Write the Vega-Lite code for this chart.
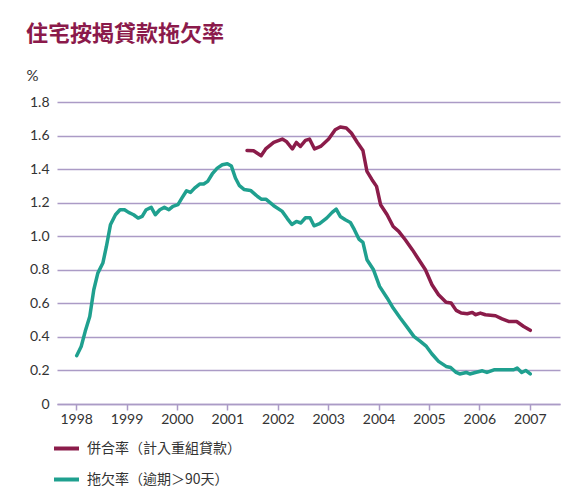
{
  "$schema": "https://vega.github.io/schema/vega-lite/v6.json",
  "width": 503,
  "height": 302,
  "autosize": "none",
  "padding": {"left": 57, "top": 102, "right": 24, "bottom": 86},
  "background": "white",
  "title": {
    "text": "住宅按揭貸款拖欠率",
    "anchor": "start",
    "frame": "group",
    "dx": -31,
    "offset": 22,
    "font": "Noto Sans CJK TC",
    "fontSize": 22,
    "fontWeight": "bold",
    "color": "#8b1a4b"
  },
  "config": {
    "view": {"stroke": null},
    "font": "Lato, Noto Sans CJK TC",
    "axis": {"labelFont": "Lato, Noto Sans CJK TC", "labelFontSize": 14, "labelColor": "#333333", "titleColor": "#333333"}
  },
  "datasets": {
    "rates": [
      {"series": "拖欠率（逾期＞90天）", "year": 1998.01, "value": 0.288},
      {"series": "拖欠率（逾期＞90天）", "year": 1998.10, "value": 0.343},
      {"series": "拖欠率（逾期＞90天）", "year": 1998.18, "value": 0.433},
      {"series": "拖欠率（逾期＞90天）", "year": 1998.27, "value": 0.522},
      {"series": "拖欠率（逾期＞90天）", "year": 1998.35, "value": 0.681},
      {"series": "拖欠率（逾期＞90天）", "year": 1998.43, "value": 0.78},
      {"series": "拖欠率（逾期＞90天）", "year": 1998.53, "value": 0.84},
      {"series": "拖欠率（逾期＞90天）", "year": 1998.60, "value": 0.939},
      {"series": "拖欠率（逾期＞90天）", "year": 1998.68, "value": 1.068},
      {"series": "拖欠率（逾期＞90天）", "year": 1998.78, "value": 1.128},
      {"series": "拖欠率（逾期＞90天）", "year": 1998.87, "value": 1.158},
      {"series": "拖欠率（逾期＞90天）", "year": 1998.96, "value": 1.158},
      {"series": "拖欠率（逾期＞90天）", "year": 1999.04, "value": 1.142},
      {"series": "拖欠率（逾期＞90天）", "year": 1999.14, "value": 1.128},
      {"series": "拖欠率（逾期＞90天）", "year": 1999.23, "value": 1.108},
      {"series": "拖欠率（逾期＞90天）", "year": 1999.31, "value": 1.118},
      {"series": "拖欠率（逾期＞90天）", "year": 1999.39, "value": 1.158},
      {"series": "拖欠率（逾期＞90天）", "year": 1999.49, "value": 1.172},
      {"series": "拖欠率（逾期＞90天）", "year": 1999.57, "value": 1.128},
      {"series": "拖欠率（逾期＞90天）", "year": 1999.66, "value": 1.158},
      {"series": "拖欠率（逾期＞90天）", "year": 1999.75, "value": 1.172},
      {"series": "拖欠率（逾期＞90天）", "year": 1999.84, "value": 1.158},
      {"series": "拖欠率（逾期＞90天）", "year": 1999.92, "value": 1.178},
      {"series": "拖欠率（逾期＞90天）", "year": 2000.02, "value": 1.188},
      {"series": "拖欠率（逾期＞90天）", "year": 2000.10, "value": 1.228},
      {"series": "拖欠率（逾期＞90天）", "year": 2000.19, "value": 1.271},
      {"series": "拖欠率（逾期＞90天）", "year": 2000.27, "value": 1.261},
      {"series": "拖欠率（逾期＞90天）", "year": 2000.35, "value": 1.287},
      {"series": "拖欠率（逾期＞90天）", "year": 2000.45, "value": 1.311},
      {"series": "拖欠率（逾期＞90天）", "year": 2000.53, "value": 1.311},
      {"series": "拖欠率（逾期＞90天）", "year": 2000.61, "value": 1.327},
      {"series": "拖欠率（逾期＞90天）", "year": 2000.70, "value": 1.371},
      {"series": "拖欠率（逾期＞90天）", "year": 2000.80, "value": 1.406},
      {"series": "拖欠率（逾期＞90天）", "year": 2000.90, "value": 1.426},
      {"series": "拖欠率（逾期＞90天）", "year": 2001.00, "value": 1.432},
      {"series": "拖欠率（逾期＞90天）", "year": 2001.08, "value": 1.418},
      {"series": "拖欠率（逾期＞90天）", "year": 2001.16, "value": 1.347},
      {"series": "拖欠率（逾期＞90天）", "year": 2001.24, "value": 1.301},
      {"series": "拖欠率（逾期＞90天）", "year": 2001.33, "value": 1.279},
      {"series": "拖欠率（逾期＞90天）", "year": 2001.46, "value": 1.273},
      {"series": "拖欠率（逾期＞90天）", "year": 2001.60, "value": 1.237},
      {"series": "拖欠率（逾期＞90天）", "year": 2001.68, "value": 1.220},
      {"series": "拖欠率（逾期＞90天）", "year": 2001.77, "value": 1.220},
      {"series": "拖欠率（逾期＞90天）", "year": 2001.92, "value": 1.182},
      {"series": "拖欠率（逾期＞90天）", "year": 2002.09, "value": 1.148},
      {"series": "拖欠率（逾期＞90天）", "year": 2002.19, "value": 1.105},
      {"series": "拖欠率（逾期＞90天）", "year": 2002.28, "value": 1.070},
      {"series": "拖欠率（逾期＞90天）", "year": 2002.37, "value": 1.088},
      {"series": "拖欠率（逾期＞90天）", "year": 2002.46, "value": 1.079},
      {"series": "拖欠率（逾期＞90天）", "year": 2002.55, "value": 1.110},
      {"series": "拖欠率（逾期＞90天）", "year": 2002.64, "value": 1.110},
      {"series": "拖欠率（逾期＞90天）", "year": 2002.72, "value": 1.062},
      {"series": "拖欠率（逾期＞90天）", "year": 2002.83, "value": 1.075},
      {"series": "拖欠率（逾期＞90天）", "year": 2002.97, "value": 1.108},
      {"series": "拖欠率（逾期＞90天）", "year": 2003.08, "value": 1.142},
      {"series": "拖欠率（逾期＞90天）", "year": 2003.16, "value": 1.162},
      {"series": "拖欠率（逾期＞90天）", "year": 2003.24, "value": 1.118},
      {"series": "拖欠率（逾期＞90天）", "year": 2003.34, "value": 1.098},
      {"series": "拖欠率（逾期＞90天）", "year": 2003.44, "value": 1.082},
      {"series": "拖欠率（逾期＞90天）", "year": 2003.52, "value": 1.039},
      {"series": "拖欠率（逾期＞90天）", "year": 2003.61, "value": 0.983},
      {"series": "拖欠率（逾期＞90天）", "year": 2003.69, "value": 0.963},
      {"series": "拖欠率（逾期＞90天）", "year": 2003.77, "value": 0.860},
      {"series": "拖欠率（逾期＞90天）", "year": 2003.90, "value": 0.800},
      {"series": "拖欠率（逾期＞90天）", "year": 2004.02, "value": 0.701},
      {"series": "拖欠率（逾期＞90天）", "year": 2004.17, "value": 0.632},
      {"series": "拖欠率（逾期＞90天）", "year": 2004.29, "value": 0.572},
      {"series": "拖欠率（逾期＞90天）", "year": 2004.43, "value": 0.513},
      {"series": "拖欠率（逾期＞90天）", "year": 2004.57, "value": 0.457},
      {"series": "拖欠率（逾期＞90天）", "year": 2004.70, "value": 0.403},
      {"series": "拖欠率（逾期＞90天）", "year": 2004.83, "value": 0.373},
      {"series": "拖欠率（逾期＞90天）", "year": 2004.95, "value": 0.343},
      {"series": "拖欠率（逾期＞90天）", "year": 2005.06, "value": 0.298},
      {"series": "拖欠率（逾期＞90天）", "year": 2005.19, "value": 0.254},
      {"series": "拖欠率（逾期＞90天）", "year": 2005.34, "value": 0.224},
      {"series": "拖欠率（逾期＞90天）", "year": 2005.43, "value": 0.218},
      {"series": "拖欠率（逾期＞90天）", "year": 2005.54, "value": 0.188},
      {"series": "拖欠率（逾期＞90天）", "year": 2005.61, "value": 0.179},
      {"series": "拖欠率（逾期＞90天）", "year": 2005.74, "value": 0.188},
      {"series": "拖欠率（逾期＞90天）", "year": 2005.81, "value": 0.179},
      {"series": "拖欠率（逾期＞90天）", "year": 2005.92, "value": 0.188},
      {"series": "拖欠率（逾期＞90天）", "year": 2006.06, "value": 0.198},
      {"series": "拖欠率（逾期＞90天）", "year": 2006.15, "value": 0.188},
      {"series": "拖欠率（逾期＞90天）", "year": 2006.29, "value": 0.204},
      {"series": "拖欠率（逾期＞90天）", "year": 2006.42, "value": 0.204},
      {"series": "拖欠率（逾期＞90天）", "year": 2006.55, "value": 0.204},
      {"series": "拖欠率（逾期＞90天）", "year": 2006.68, "value": 0.204},
      {"series": "拖欠率（逾期＞90天）", "year": 2006.75, "value": 0.214},
      {"series": "拖欠率（逾期＞90天）", "year": 2006.84, "value": 0.188},
      {"series": "拖欠率（逾期＞90天）", "year": 2006.92, "value": 0.200},
      {"series": "拖欠率（逾期＞90天）", "year": 2007.01, "value": 0.179},
      {"series": "併合率（計入重組貸款）", "year": 2001.39, "value": 1.511},
      {"series": "併合率（計入重組貸款）", "year": 2001.52, "value": 1.509},
      {"series": "併合率（計入重組貸款）", "year": 2001.67, "value": 1.480},
      {"series": "併合率（計入重組貸款）", "year": 2001.76, "value": 1.520},
      {"series": "併合率（計入重組貸款）", "year": 2001.92, "value": 1.559},
      {"series": "併合率（計入重組貸款）", "year": 2002.09, "value": 1.579},
      {"series": "併合率（計入重組貸款）", "year": 2002.17, "value": 1.565},
      {"series": "併合率（計入重組貸款）", "year": 2002.29, "value": 1.520},
      {"series": "併合率（計入重組貸款）", "year": 2002.37, "value": 1.559},
      {"series": "併合率（計入重組貸款）", "year": 2002.45, "value": 1.535},
      {"series": "併合率（計入重組貸款）", "year": 2002.55, "value": 1.571},
      {"series": "併合率（計入重組貸款）", "year": 2002.63, "value": 1.579},
      {"series": "併合率（計入重組貸款）", "year": 2002.73, "value": 1.520},
      {"series": "併合率（計入重組貸款）", "year": 2002.85, "value": 1.535},
      {"series": "併合率（計入重組貸款）", "year": 2003.01, "value": 1.579},
      {"series": "併合率（計入重組貸款）", "year": 2003.14, "value": 1.635},
      {"series": "併合率（計入重組貸款）", "year": 2003.24, "value": 1.651},
      {"series": "併合率（計入重組貸款）", "year": 2003.36, "value": 1.645},
      {"series": "併合率（計入重組貸款）", "year": 2003.46, "value": 1.615},
      {"series": "併合率（計入重組貸款）", "year": 2003.58, "value": 1.559},
      {"series": "併合率（計入重組貸款）", "year": 2003.69, "value": 1.511},
      {"series": "併合率（計入重組貸款）", "year": 2003.77, "value": 1.386},
      {"series": "併合率（計入重組貸款）", "year": 2003.87, "value": 1.337},
      {"series": "併合率（計入重組貸款）", "year": 2003.96, "value": 1.297},
      {"series": "併合率（計入重組貸款）", "year": 2004.04, "value": 1.188},
      {"series": "併合率（計入重組貸款）", "year": 2004.17, "value": 1.128},
      {"series": "併合率（計入重組貸款）", "year": 2004.29, "value": 1.058},
      {"series": "併合率（計入重組貸款）", "year": 2004.40, "value": 1.029},
      {"series": "併合率（計入重組貸款）", "year": 2004.53, "value": 0.979},
      {"series": "併合率（計入重組貸款）", "year": 2004.67, "value": 0.920},
      {"series": "併合率（計入重組貸款）", "year": 2004.80, "value": 0.860},
      {"series": "併合率（計入重組貸款）", "year": 2004.93, "value": 0.800},
      {"series": "併合率（計入重組貸款）", "year": 2005.06, "value": 0.711},
      {"series": "併合率（計入重組貸款）", "year": 2005.19, "value": 0.651},
      {"series": "併合率（計入重組貸款）", "year": 2005.34, "value": 0.606},
      {"series": "併合率（計入重組貸款）", "year": 2005.44, "value": 0.602},
      {"series": "併合率（計入重組貸款）", "year": 2005.54, "value": 0.558},
      {"series": "併合率（計入重組貸款）", "year": 2005.64, "value": 0.542},
      {"series": "併合率（計入重組貸款）", "year": 2005.76, "value": 0.538},
      {"series": "併合率（計入重組貸款）", "year": 2005.86, "value": 0.546},
      {"series": "併合率（計入重組貸款）", "year": 2005.92, "value": 0.532},
      {"series": "併合率（計入重組貸款）", "year": 2006.02, "value": 0.542},
      {"series": "併合率（計入重組貸款）", "year": 2006.12, "value": 0.532},
      {"series": "併合率（計入重組貸款）", "year": 2006.32, "value": 0.526},
      {"series": "併合率（計入重組貸款）", "year": 2006.45, "value": 0.507},
      {"series": "併合率（計入重組貸款）", "year": 2006.58, "value": 0.492},
      {"series": "併合率（計入重組貸款）", "year": 2006.74, "value": 0.492},
      {"series": "併合率（計入重組貸款）", "year": 2006.88, "value": 0.462},
      {"series": "併合率（計入重組貸款）", "year": 2007.01, "value": 0.439}
    ]
  },
  "data": {"name": "rates"},
  "mark": {"type": "line", "strokeWidth": 3.5, "strokeJoin": "round", "strokeCap": "round"},
  "encoding": {
    "x": {
      "field": "year",
      "type": "quantitative",
      "scale": {"domain": [1997.62, 2007.6], "nice": false, "zero": false},
      "axis": {
        "values": [1998, 1999, 2000, 2001, 2002, 2003, 2004, 2005, 2006, 2007],
        "format": "d",
        "title": null,
        "grid": false,
        "domainColor": "#ab9bc6",
        "domainWidth": 1.5,
        "tickColor": "#ab9bc6",
        "tickWidth": 1.5,
        "tickSize": 6,
        "labelPadding": 2,
        "labelFlush": false
      }
    },
    "y": {
      "field": "value",
      "type": "quantitative",
      "scale": {"domain": [0, 1.8], "nice": false},
      "axis": {
        "values": [0, 0.2, 0.4, 0.6, 0.8, 1.0, 1.2, 1.4, 1.6, 1.8],
        "labelExpr": "datum.value == 0 ? '0' : format(datum.value, '.1f')",
        "title": "%",
        "titleAngle": 0,
        "titleAlign": "left",
        "titleBaseline": "middle",
        "titleX": -31,
        "titleY": -27,
        "titleFont": "Lato",
        "titleFontSize": 15,
        "titleFontWeight": "normal",
        "domain": false,
        "ticks": false,
        "labelPadding": 8,
        "gridColor": "#ab9bc6",
        "gridWidth": 1.5
      }
    },
    "color": {
      "field": "series",
      "type": "nominal",
      "scale": {
        "domain": ["併合率（計入重組貸款）", "拖欠率（逾期＞90天）"],
        "range": ["#8b1c4a", "#1fa08f"]
      },
      "legend": {
        "title": null,
        "orient": "none",
        "legendX": -5,
        "legendY": 332,
        "direction": "vertical",
        "symbolType": "stroke",
        "symbolStrokeWidth": 4,
        "symbolSize": 625,
        "labelFont": "Noto Sans CJK TC",
        "labelFontSize": 14,
        "labelColor": "#333333",
        "labelOffset": 6,
        "rowPadding": 8,
        "padding": 0
      }
    }
  }
}
